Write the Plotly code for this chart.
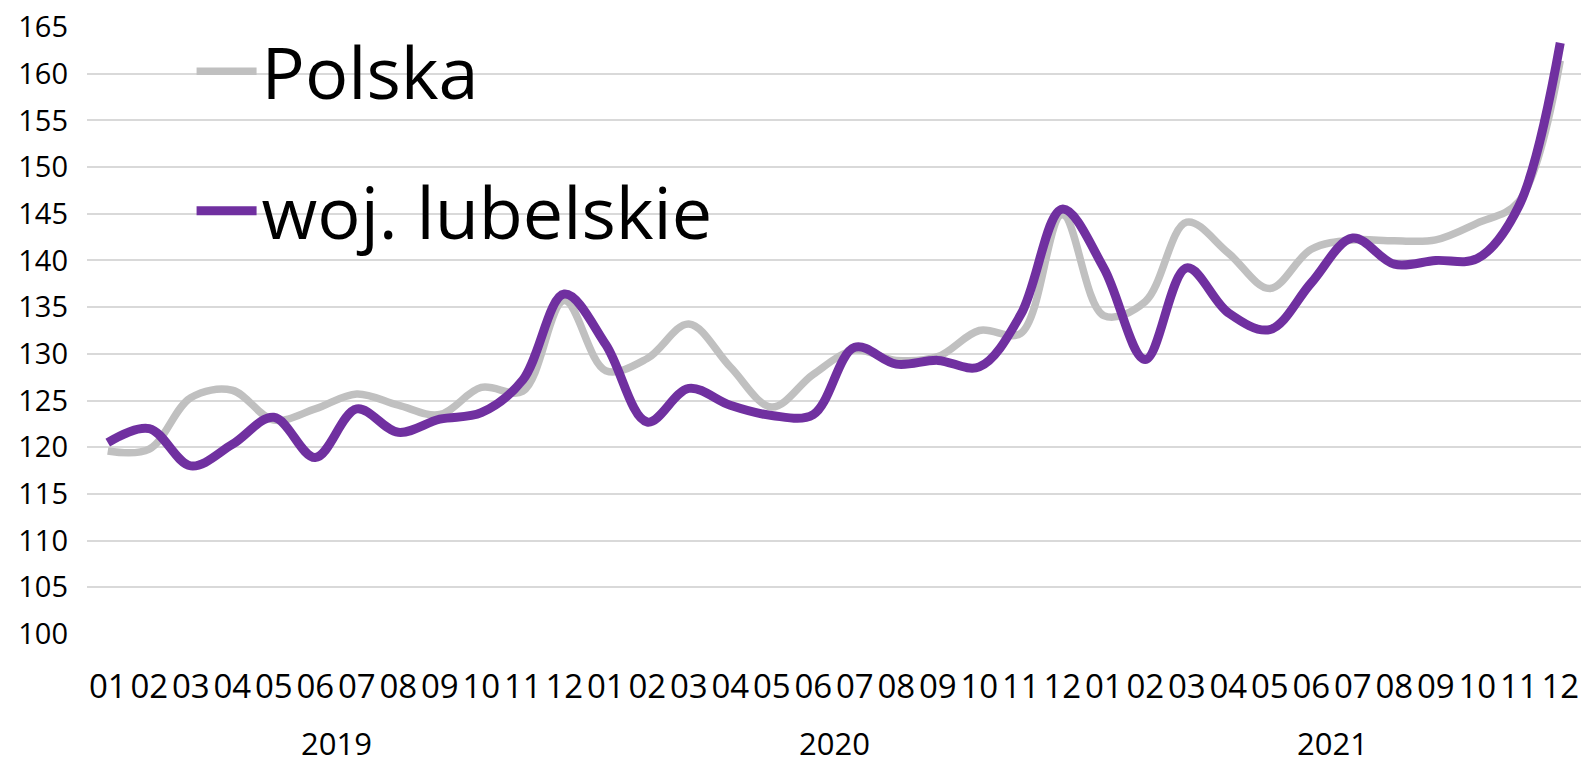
import plotly.graph_objects as go

# months and years on the category axis
years = ["2019", "2020", "2021"]
months = ["01", "02", "03", "04", "05", "06", "07", "08", "09", "10", "11", "12"]

polska = [
    119.6, 119.8, 125.3, 126.1, 122.9, 124.1, 125.7, 124.5, 123.5, 126.4, 126.0, 135.7,
    128.2, 129.5, 133.2, 128.6, 124.3, 127.8, 130.4, 129.3, 129.7, 132.5, 132.2, 144.9,
    134.1, 135.6, 144.1, 140.8, 137.0, 141.2, 142.2, 142.1, 142.2, 144.0, 146.3, 161.4,
]
lubelskie = [
    120.5, 122.0, 118.0, 120.3, 123.2, 118.9, 124.1, 121.6, 123.0, 123.7, 127.2, 136.4,
    131.0, 122.7, 126.3, 124.5, 123.4, 123.5, 130.7, 128.9, 129.3, 128.6, 134.2, 145.5,
    139.2, 129.4, 139.2, 134.4, 132.6, 137.6, 142.4, 139.6, 140.0, 140.2, 145.8, 163.3,
]

cats = [y + "-" + m for y in years for m in months]
month_labels = [m for y in years for m in months]

FONT = "Open Sans, Noto Sans, Liberation Sans, sans-serif"

fig = go.Figure()
fig.add_trace(go.Scatter(
    x=cats, y=polska, name="Polska", mode="lines", legendgroup="a",
    line=dict(color="#C0C0C0", width=7.5, shape="spline", smoothing=1),
))
fig.add_trace(go.Scatter(
    x=cats, y=lubelskie, name="woj. lubelskie", mode="lines", legendgroup="b",
    line=dict(color="#7030A0", width=9, shape="spline", smoothing=1),
))

# year labels under each block of 12 months
for i, y in enumerate(years):
    fig.add_annotation(
        x=i * len(months) + (len(months) - 1) / 2, y=-0.18,
        xref="x", yref="paper", text=y, showarrow=False, borderpad=0,
        font=dict(size=31, color="black", family=FONT), yanchor="middle",
    )

fig.update_layout(
    width=1581, height=764,
    margin=dict(l=87, r=0, t=27, b=130),
    plot_bgcolor="white", paper_bgcolor="white",
    font=dict(family=FONT, size=29, color="black"),
    showlegend=True,
    legend=dict(
        x=0.07, y=1.015, xanchor="left", yanchor="top",
        font=dict(size=72, color="black", family=FONT),
        bgcolor="rgba(0,0,0,0)", itemwidth=60, tracegroupgap=43,
    ),
)
fig.update_xaxes(
    type="category", range=[-0.5, len(cats) - 0.5],
    tickmode="array", tickvals=cats, ticktext=month_labels, tickangle=0,
    tickfont=dict(size=33),
    showgrid=False, showline=False, ticks="", ticklabelstandoff=30,
)
fig.update_yaxes(
    range=[100, 165], dtick=5, tick0=100,
    showgrid=True, gridcolor="#D9D9D9", gridwidth=2,
    zeroline=False, showline=False, ticks="", ticklabelstandoff=18,
)

fig.write_html(
    "out.html",
    config={"displayModeBar": False},
    post_script="document.body.style.margin='0';",
)
